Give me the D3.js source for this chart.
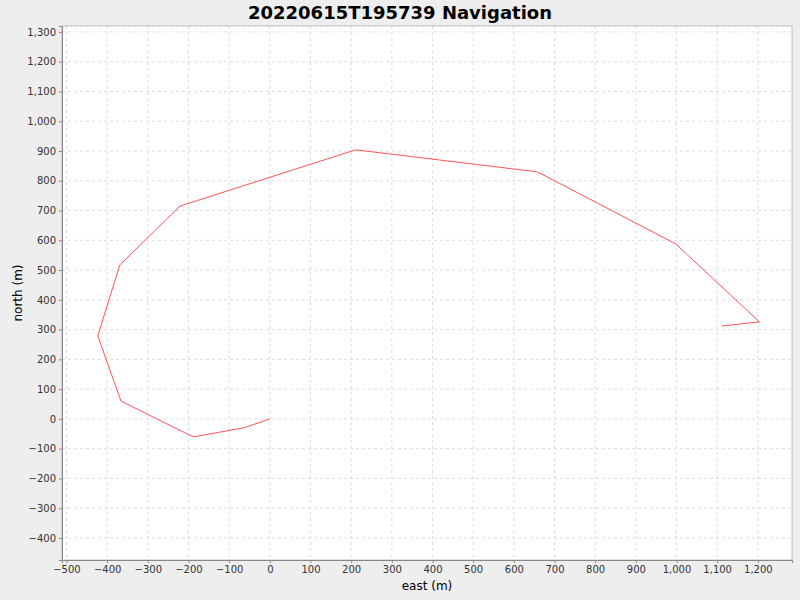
<!DOCTYPE html>
<html><head><meta charset="utf-8">
<script src="https://cdn.jsdelivr.net/npm/d3@7"></script>
<style>body{margin:0;background:#eeeeee;font-family:"DejaVu Sans",sans-serif}</style>
</head><body><svg id="chart" width="800" height="600"></svg>
<script>
// track points, east / north in metres
const east  = [0, -64, -187, -204, -366, -423, -369, -221, 211, 658, 998, 1204, 1111];
const north = [0, -30, -60, -50, 60, 279, 517, 715, 904, 830, 588, 326, 312];
const xTicks = d3.range(-500, 1201, 100);
const yTicks = d3.range(-400, 1301, 100);

const svg = d3.select('#chart');
const pL = 62, pR = 792, pT = 26, pB = 560;
const x = d3.scaleLinear().domain([-511, 1284]).range([pL, pR]);
const y = d3.scaleLinear().domain([-474, 1320]).range([pB, pT]);
const fmt = d3.format(',');

svg.append('text').attr('x', 400).attr('y', 19).attr('text-anchor', 'middle')
    .attr('font-size', 18).attr('font-weight', 'bold').text('20220615T195739 Navigation');

svg.append('rect').attr('x', pL).attr('y', pT).attr('width', pR - pL)
    .attr('height', pB - pT).attr('fill', 'white');

// grid
svg.append('g').selectAll('line').data(xTicks).enter().append('line')
    .attr('x1', d => x(d)).attr('x2', d => x(d)).attr('y1', pT).attr('y2', pB)
    .attr('stroke', '#dddddd').attr('stroke-dasharray', '3,3');
svg.append('g').selectAll('line').data(yTicks).enter().append('line')
    .attr('y1', d => y(d)).attr('y2', d => y(d)).attr('x1', pL).attr('x2', pR)
    .attr('stroke', '#dddddd').attr('stroke-dasharray', '3,3');

// axes
const xa = svg.append('g').attr('transform', `translate(0,${pB})`)
    .call(d3.axisBottom(x).tickValues(xTicks).tickFormat(fmt).tickSizeOuter(0).tickSize(3));
const ya = svg.append('g').attr('transform', `translate(${pL},0)`)
    .call(d3.axisLeft(y).tickValues(yTicks).tickFormat(fmt).tickSizeOuter(0).tickSize(3));
[xa, ya].forEach(a => {
    a.selectAll('text').attr('font-size', 10).attr('font-family', 'DejaVu Sans').attr('fill', '#333');
    a.selectAll('line,path').attr('stroke', '#888');
});
svg.append('rect').attr('x', pL).attr('y', pT).attr('width', pR - pL)
    .attr('height', pB - pT).attr('fill', 'none').attr('stroke', '#888').attr('stroke-width', 0.5);

svg.append('text').attr('x', (pL + pR) / 2).attr('y', 590).attr('text-anchor', 'middle')
    .attr('font-size', 12).text('east (m)');
svg.append('text').attr('transform', `translate(22,${(pT + pB) / 2}) rotate(-90)`)
    .attr('text-anchor', 'middle').attr('font-size', 12).text('north (m)');

const line = d3.line().x(i => x(east[i])).y(i => y(north[i]));
svg.append('path').attr('d', line(d3.range(east.length)))
    .attr('fill', 'none').attr('stroke', '#ff5555').attr('stroke-width', 1);
</script></body></html>
